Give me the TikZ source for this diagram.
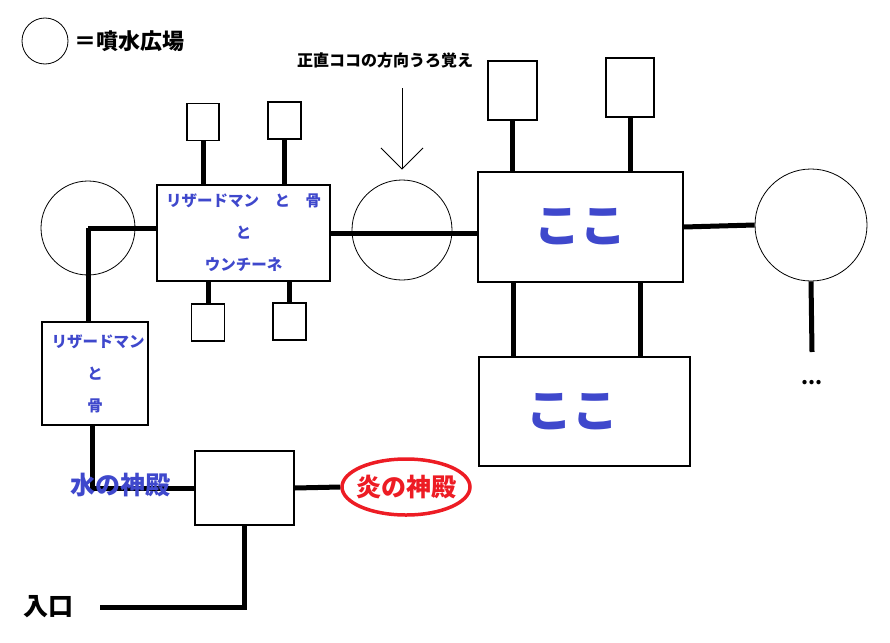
\documentclass[tikz,border=0pt]{standalone}
\usepackage{fontspec}
\setmainfont{Noto Sans CJK JP}
\usetikzlibrary{shapes.geometric,arrows.meta}
\definecolor{paintblue}{RGB}{63,72,204}
\definecolor{paintred}{RGB}{237,28,36}
\tikzset{
  plaza/.style={circle,draw,line width=0.8pt,inner sep=0pt},
  room/.style={rectangle,draw,line width=1.3pt,inner sep=0pt},
  road/.style={line width=5pt},
  roomtext/.style={text=paintblue,font=\bfseries\fontsize{15.5}{32}\selectfont,align=center},
  kokotext/.style={text=paintblue,font=\bfseries\fontsize{46}{46}\selectfont},
  templetext/.style={font=\bfseries\fontsize{25}{25}\selectfont},
}
\begin{document}
\begin{tikzpicture}[x=1pt,y=-1pt]
  \useasboundingbox (0,0) rectangle (890,642);
  \node[plaza,minimum size=46] (key) at (45,41) {};
  \node[anchor=west,inner sep=0pt,font=\bfseries\fontsize{22}{22}\selectfont] (keytext) at (74,41) {＝噴水広場};
  \node[font=\bfseries\fontsize{16}{16}\selectfont] (note) at (385,60) {正直ココの方向うろ覚え};
  \coordinate (notearrow) at (402,88);

  \node[plaza,minimum size=94] (west) at (88,228) {};
  \node[plaza,minimum size=100] (mid) at (402,230) {};
  \node[plaza,minimum size=112] (east) at (811,225) {};

  \node[room,roomtext,minimum width=173,minimum height=96] (lizard) at (243.5,233) {リザードマン　と　骨\\と\\ウンチーネ};
  \node[room,minimum width=32,minimum height=37] (lizardup1) at (203,122) {};
  \node[room,minimum width=33,minimum height=37] (lizardup2) at (284.5,120.5) {};
  \node[room,minimum width=33,minimum height=37] (lizarddown1) at (208,322.5) {};
  \node[room,minimum width=33,minimum height=37] (lizarddown2) at (289.5,321.5) {};

  \node[room,kokotext,minimum width=205,minimum height=110] (koko1) at (580.5,227) {ここ};
  \node[room,minimum width=49,minimum height=59] (kokoup1) at (512.5,90.5) {};
  \node[room,minimum width=48,minimum height=59] (kokoup2) at (630,87.5) {};
  \node[room,minimum width=211,minimum height=109] (koko2) at (584.5,411.5) {};
  \node[kokotext] (koko2text) at ([xshift=-12pt]koko2.center) {ここ};

  \node[room,roomtext,minimum width=106,minimum height=103] (bone) at (95,373.5) {\hspace*{6pt}リザードマン\\と\\骨};
  \node[room,minimum width=99,minimum height=74] (gate) at (244.5,488) {};
  \node[ellipse,draw=paintred,line width=3.5pt,minimum width=128,minimum height=56] (fire) at (406,487) {};
  \coordinate (entry) at (100,607);
  \coordinate (more) at (812,352);

  \draw[line width=0.9pt,-{Straight Barb[length=21pt,width=42pt]}] (notearrow) -- ([yshift=10pt]mid.north);

  \begin{scope}[road]
    \draw (west.center) -- (west.center -| lizard.west);
    \draw (west.center) -- (west.center |- bone.north);
    \draw (lizardup1.south) -- (lizardup1.south |- lizard.north);
    \draw (lizardup2.south) -- (lizardup2.south |- lizard.north);
    \draw (lizarddown1.north) -- (lizarddown1.north |- lizard.south);
    \draw (lizarddown2.north) -- (lizarddown2.north |- lizard.south);
    \draw (lizard.east) -- (lizard.east -| koko1.west);
    \draw (kokoup1.south) -- (kokoup1.south |- koko1.north);
    \draw (kokoup2.south) -- (kokoup2.south |- koko1.north);
    \draw ([xshift=36pt]koko1.south west) -- ([xshift=36pt]koko1.south west |- koko2.north);
    \draw ([xshift=163pt]koko1.south west) -- ([xshift=163pt]koko1.south west |- koko2.north);
    \draw (koko1.east) -- (east.west);
    \draw (east.south) -- (more);
    \draw ([xshift=-3pt]bone.south) |- (gate.west);
    \draw (gate.east) -- (fire.west);
    \draw (gate.south) |- (entry);
  \end{scope}

  \node[templetext,text=paintred] (firetext) at (fire.center) {炎の神殿};
  \node[templetext,text=paintblue] (water) at (120,485) {水の神殿};
  \node[templetext] (entrance) at (48,607) {入口};
  \node[font=\bfseries\fontsize{20}{20}\selectfont] (dots) at (812,383) {...};
\end{tikzpicture}
\end{document}
